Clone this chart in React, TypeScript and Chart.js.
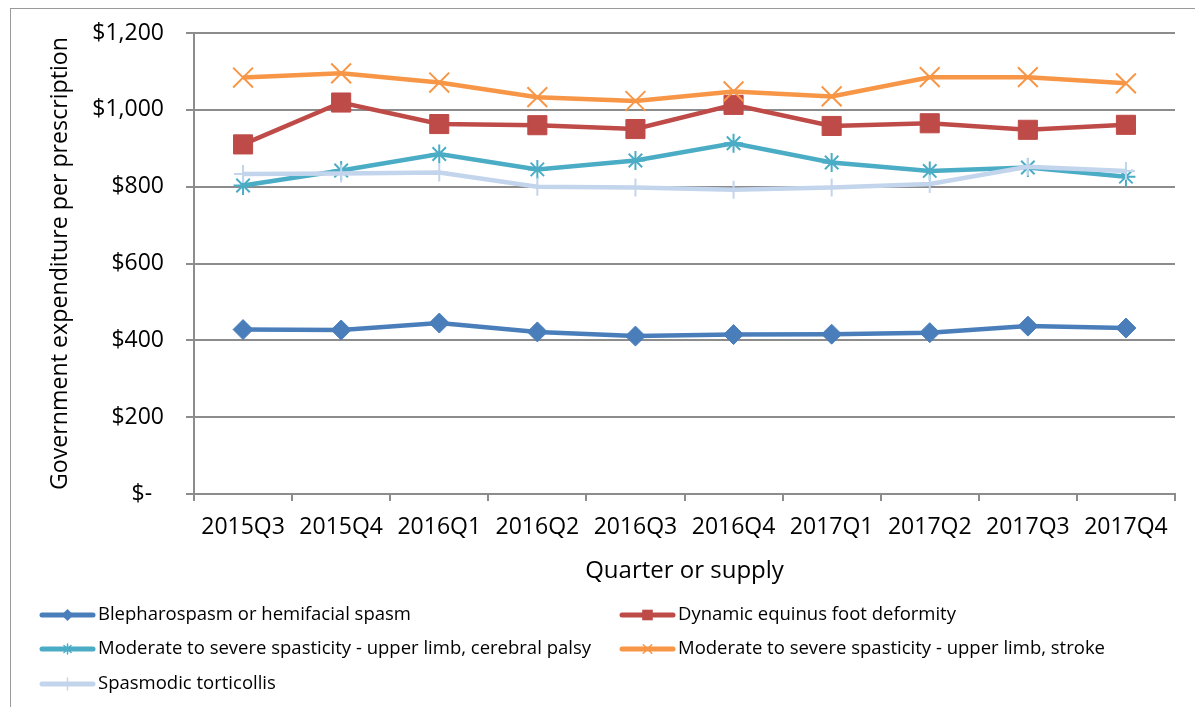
import React, { useEffect, useRef } from 'react';
import { Chart, registerables } from 'chart.js';

Chart.register(...registerables);

const categories = ['2015Q3', '2015Q4', '2016Q1', '2016Q2', '2016Q3', '2016Q4', '2017Q1', '2017Q2', '2017Q3', '2017Q4'];

const blepharospasm = [428, 427, 445, 422, 411, 415, 416, 420, 437, 432];
const equinusFoot = [910, 1019, 963, 960, 950, 1013, 958, 965, 948, 961];
const cerebralPalsy = [803, 842, 885, 845, 868, 913, 863, 841, 850, 826];
const stroke = [1084, 1095, 1071, 1033, 1023, 1048, 1035, 1085, 1085, 1069];
const torticollis = [833, 834, 837, 800, 798, 792, 798, 807, 852, 841];

const seriesNames = [
  'Blepharospasm or hemifacial spasm',
  'Dynamic equinus foot deformity',
  'Moderate to severe spasticity - upper limb, cerebral palsy',
  'Moderate to severe spasticity - upper limb, stroke',
  'Spasmodic torticollis',
];
const seriesValues = [blepharospasm, equinusFoot, cerebralPalsy, stroke, torticollis];
const seriesColors = ['#4A7EBB', '#BE4B48', '#4BACC6', '#F79646', '#C3D5EC'];
const seriesMarkers = ['rectRot', 'rect', 'star', 'crossRot', 'cross'];
const markerRadius = [10, 13.5, 9.5, 14, 9];
const legendMarkerRadius = [6, 7.5, 5, 6, 6];

const yMin = 0;
const yMax = 1200;
const yStep = 200;

const yAxisTitle = 'Government expenditure per prescription';
const xAxisTitle = 'Quarter or supply';

const FONT = '"Open Sans", sans-serif';
const GRID = '#8c8c8c';

function drawMarker(ctx: CanvasRenderingContext2D, style: string, x: number, y: number, r: number, color: string, lw: number) {
  ctx.save();
  ctx.fillStyle = color;
  ctx.strokeStyle = color;
  ctx.lineWidth = lw;
  ctx.beginPath();
  const d = r * Math.SQRT1_2;
  switch (style) {
    case 'rectRot':
      ctx.moveTo(x - r, y);
      ctx.lineTo(x, y - r);
      ctx.lineTo(x + r, y);
      ctx.lineTo(x, y + r);
      ctx.closePath();
      ctx.fill();
      break;
    case 'rect':
      ctx.rect(x - d, y - d, 2 * d, 2 * d);
      ctx.fill();
      break;
    case 'crossRot':
      ctx.moveTo(x - d, y - d);
      ctx.lineTo(x + d, y + d);
      ctx.moveTo(x - d, y + d);
      ctx.lineTo(x + d, y - d);
      ctx.stroke();
      break;
    case 'star':
      ctx.moveTo(x, y - r);
      ctx.lineTo(x, y + r);
      ctx.moveTo(x - r, y);
      ctx.lineTo(x + r, y);
      ctx.moveTo(x - d, y - d);
      ctx.lineTo(x + d, y + d);
      ctx.moveTo(x - d, y + d);
      ctx.lineTo(x + d, y - d);
      ctx.stroke();
      break;
    case 'cross':
      ctx.moveTo(x, y - r);
      ctx.lineTo(x, y + r);
      ctx.moveTo(x - r, y);
      ctx.lineTo(x + r, y);
      ctx.stroke();
      break;
  }
  ctx.restore();
}

const legendPlugin = {
  id: 'twoColumnLegend',
  afterDraw(chart: any) {
    const ctx: CanvasRenderingContext2D = chart.ctx;
    const colX = [29, 609];
    const rowY = [606, 640, 675];
    const lineLen = 55;
    ctx.save();
    chart.data.datasets.forEach((ds: any, i: number) => {
      const x0 = colX[i % 2];
      const y = rowY[Math.floor(i / 2)];
      ctx.beginPath();
      ctx.strokeStyle = ds.borderColor;
      ctx.lineWidth = 5;
      ctx.lineCap = 'round';
      ctx.moveTo(x0 + 2, y);
      ctx.lineTo(x0 + lineLen - 2, y);
      ctx.stroke();
      drawMarker(ctx, seriesMarkers[i], x0 + lineLen / 2, y, legendMarkerRadius[i], ds.borderColor, 1.5);
      ctx.fillStyle = '#000';
      ctx.font = `18.5px ${FONT}`;
      ctx.textBaseline = 'middle';
      ctx.textAlign = 'left';
      ctx.fillText(ds.label, x0 + lineLen + 3, y);
    });
    ctx.restore();
  },
};

export default function App() {
  const canvasRef = useRef<HTMLCanvasElement | null>(null);

  useEffect(() => {
    if (!canvasRef.current) return;
    const n = seriesValues.length;
    const chart = new Chart(canvasRef.current, {
      type: 'line',
      data: {
        labels: categories,
        datasets: seriesValues.map((values, i) => ({
          label: seriesNames[i],
          data: values,
          borderColor: seriesColors[i],
          backgroundColor: seriesColors[i],
          borderWidth: 4.5,
          tension: 0,
          pointStyle: seriesMarkers[i] as any,
          pointRadius: markerRadius[i],
          pointHoverRadius: markerRadius[i],
          pointBorderWidth: i < 2 ? 1 : 2,
          pointBackgroundColor: seriesColors[i],
          pointBorderColor: seriesColors[i],
          order: n - 1 - i,
        })),
      },
      options: {
        responsive: false,
        animation: false,
        devicePixelRatio: 1,
        layout: { padding: { left: 0, right: 20, top: 24, bottom: 121.6 } },
        plugins: {
          legend: { display: false },
          tooltip: { enabled: false },
        },
        scales: {
          x: {
            type: 'category',
            offset: true,
            grid: {
              drawOnChartArea: false,
              drawTicks: true,
              tickLength: 7,
              offset: true,
              color: GRID,
              lineWidth: 2,
            },
            border: { display: true, color: GRID, width: 2 },
            ticks: {
              color: '#000',
              font: { family: FONT, size: 23 },
              padding: 13,
              maxRotation: 0,
              autoSkip: false,
            },
            title: {
              display: true,
              text: xAxisTitle,
              color: '#000',
              font: { family: FONT, size: 24 },
              padding: { top: 0, bottom: 0 },
            },
            afterFit: (scale: any) => {
              scale.height = 91.4;
              scale.paddingLeft = 0;
              scale.paddingRight = 0;
            },
          },
          y: {
            min: yMin,
            max: yMax,
            ticks: {
              stepSize: yStep,
              color: '#000',
              font: { family: FONT, size: 23 },
              padding: 22,
              callback: (v: any) => (Number(v) === 0 ? '$-  ' : '$' + Number(v).toLocaleString('en-US')),
            },
            grid: {
              color: GRID,
              lineWidth: 2,
              tickLength: 8,
              drawTicks: true,
            },
            border: { display: true, color: GRID, width: 2 },
            title: {
              display: true,
              text: yAxisTitle,
              color: '#000',
              font: { family: FONT, size: 23.2 },
              padding: { top: 35, bottom: 0 },
            },
            afterFit: (scale: any) => {
              scale.width = 183;
              scale.paddingTop = 0;
              scale.paddingBottom = 0;
            },
          },
        },
      },
      plugins: [legendPlugin],
    });
    return () => chart.destroy();
  }, []);

  return (
    <div
      style={{
        position: 'fixed',
        left: 10,
        top: 8,
        width: 1185,
        height: 699,
        borderTop: '1px solid #9a9a9a',
        borderLeft: '1px solid #9a9a9a',
        boxSizing: 'border-box',
        background: '#fff',
      }}
    >
      <canvas ref={canvasRef} width={1184} height={698} style={{ display: 'block' }} />
    </div>
  );
}
